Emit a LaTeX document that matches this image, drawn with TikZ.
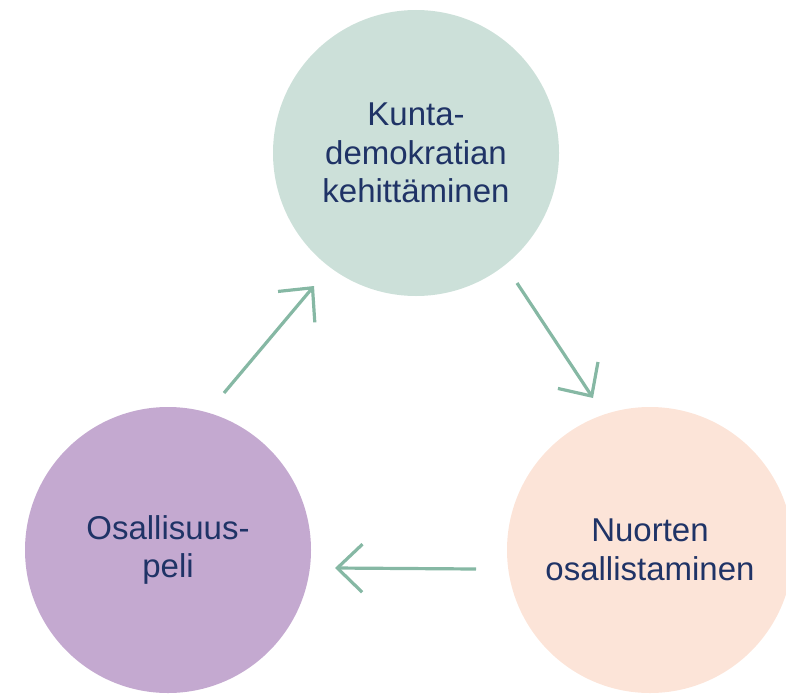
\documentclass[tikz,border=0pt]{standalone}
\usepackage{fontspec}
\setmainfont{Liberation Sans}
\usetikzlibrary{arrows.meta}
\definecolor{cgreen}{HTML}{CCE0D9}
\definecolor{cpurple}{HTML}{C4A9D0}
\definecolor{cpeach}{HTML}{FCE4D8}
\definecolor{carrow}{HTML}{86B8A4}
\definecolor{ctext}{HTML}{1F3366}
\tikzset{
  bubble/.style={circle, minimum size=286pt, inner sep=0pt, draw=none, align=center,
    text=ctext, font=\fontsize{33}{38.5}\selectfont},
  flow/.style={draw=carrow, line width=3.2pt, -{Straight Barb[length=25pt,width=48pt,line width=3.2pt]}}
}
\begin{document}
\begin{tikzpicture}[x=1pt,y=-1pt]
\useasboundingbox (0,0) rectangle (786,693);
\begin{scope}
\clip (0,0) rectangle (786,693);
\node[bubble, fill=cgreen] (top) at (416,153) {Kunta-\\demokratian\\kehittäminen};
\node[bubble, fill=cpurple] (left) at (168,550) {Osallisuus-\\peli};
\node[bubble, fill=cpeach] (right) at (650,550) {Nuorten\\osallistaminen};
\end{scope}
\coordinate (a1s) at (224,393);
\coordinate (a1e) at (314,286);
\coordinate (a2s) at (517,283);
\coordinate (a2e) at (593,398);
\coordinate (a3s) at (476,569);
\coordinate (a3e) at (335,568);
\draw[flow] (a1s) -- (a1e);
\draw[flow] (a2s) -- (a2e);
\draw[flow] (a3s) -- (a3e);
\end{tikzpicture}
\end{document}
